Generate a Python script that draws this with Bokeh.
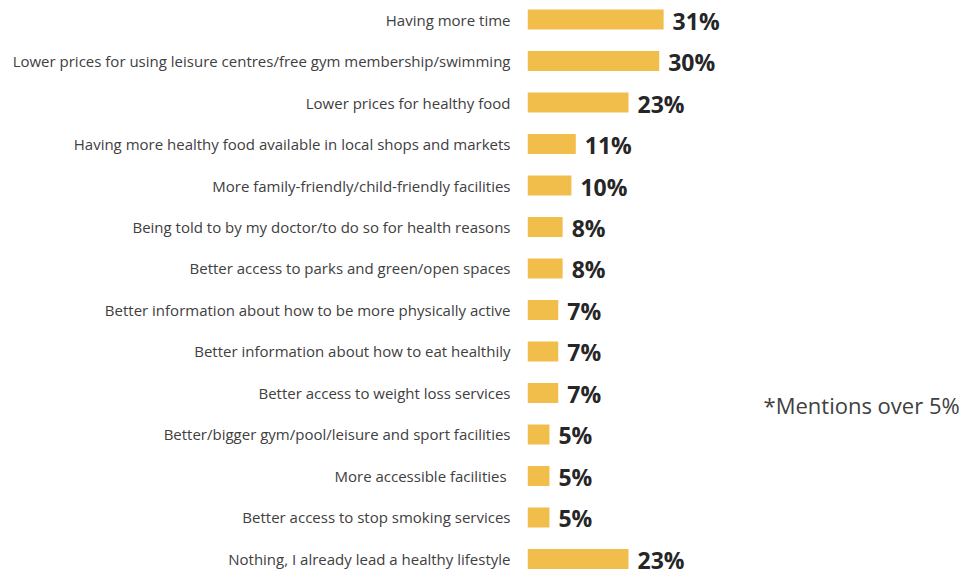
from bokeh.plotting import figure
from bokeh.models import Range1d, FixedTicker, Label, ColumnDataSource
from bokeh.core.properties import value
from bokeh.embed import file_html
from bokeh.resources import INLINE

categories = [
    "Having more time",
    "Lower prices for using leisure centres/free gym membership/swimming",
    "Lower prices for healthy food",
    "Having more healthy food available in local shops and markets",
    "More family-friendly/child-friendly facilities",
    "Being told to by my doctor/to do so for health reasons",
    "Better access to parks and green/open spaces",
    "Better information about how to be more physically active",
    "Better information about how to eat healthily",
    "Better access to weight loss services",
    "Better/bigger gym/pool/leisure and sport facilities",
    "More accessible facilities ",
    "Better access to stop smoking services",
    "Nothing, I already lead a healthy lifestyle",
]
values = [31, 30, 23, 11, 10, 8, 8, 7, 7, 7, 5, 5, 5, 23]
note = "*Mentions over 5%"

idx = list(range(len(categories)))
src = ColumnDataSource(dict(y=idx, v=values, lab=[f"{v}%" for v in values]))

p = figure(width=963, height=577, output_backend="svg", toolbar_location=None,
           x_range=Range1d(0, 99.3), y_range=Range1d(13.446, -0.458),
           min_border_left=527, min_border_right=0, min_border_top=0, min_border_bottom=0)
p.outline_line_color = None
p.grid.visible = False
p.xaxis.visible = False
p.background_fill_color = "white"

p.hbar(y="y", right="v", left=0, height=0.482, source=src,
       fill_color="#F1BE4B", line_color=None)
p.text(x="v", y="y", text="lab", source=src, x_offset=9, y_offset=1,
       text_font=value("Open Sans"), text_font_style="bold", text_font_size="23px",
       text_color="#262626", text_baseline="middle", text_align="left")

ax = p.yaxis[0]
ax.ticker = FixedTicker(ticks=idx)
ax.major_label_overrides = {i: c for i, c in zip(idx, categories)}
ax.axis_line_color = None
ax.major_tick_line_color = None
ax.minor_tick_line_color = None
ax.major_tick_out = 0
ax.major_tick_in = 0
ax.major_label_standoff = 17
ax.major_label_text_font = "Open Sans"
ax.major_label_text_font_size = "15px"
ax.major_label_text_color = "#404040"

p.add_layout(Label(x=53.76, y=9.3, text=note, text_font="Open Sans",
                   text_font_size="22px", text_color="#404040",
                   text_baseline="middle", text_align="left"))

open("out.html", "w").write(file_html(p, INLINE))
